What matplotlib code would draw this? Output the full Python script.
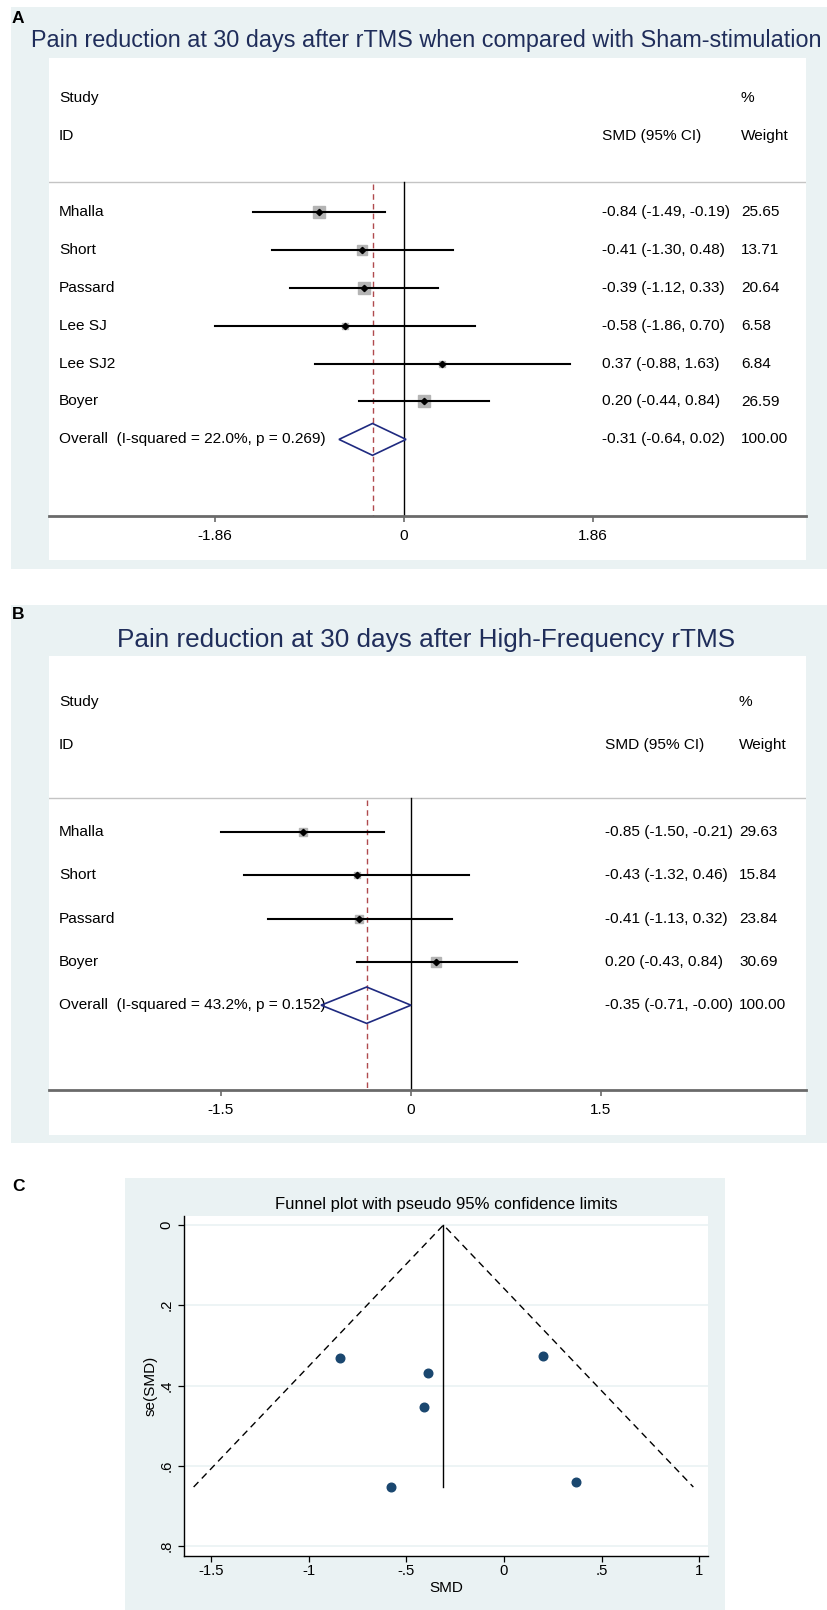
"""
Forest plots (A, B) and funnel plot (C) for pain reduction 30 days after rTMS.
"""

import matplotlib

matplotlib.use("Agg")
import matplotlib.pyplot as plt
import matplotlib.transforms as mtransforms
import numpy as np
from matplotlib.patches import Polygon, Rectangle

W, H = 828, 1610
BG = "#eaf2f3"
TITLE_COLOR = "#1f2d5a"
DOT_COLOR = "#1a476f"
FONT = ["Liberation Sans", "DejaVu Sans"]

# Panel A: rTMS vs sham
studies_a = ["Mhalla", "Short", "Passard", "Lee SJ", "Lee SJ2", "Boyer"]
smd_a = [-0.84, -0.41, -0.39, -0.58, 0.37, 0.20]
lo_a = [-1.49, -1.30, -1.12, -1.86, -0.88, -0.44]
hi_a = [-0.19, 0.48, 0.33, 0.70, 1.63, 0.84]
weight_a = [25.65, 13.71, 20.64, 6.58, 6.84, 26.59]
overall_a = [-0.31, -0.64, 0.02, 100.00]
het_a = ["22.0%", "0.269"]
ticks_a = [-1.86, 0, 1.86]
ticklabels_a = ["-1.86", "0", "1.86"]

# Panel B: high-frequency rTMS
studies_b = ["Mhalla", "Short", "Passard", "Boyer"]
smd_b = [-0.85, -0.43, -0.41, 0.20]
lo_b = [-1.50, -1.32, -1.13, -0.43]
hi_b = [-0.21, 0.46, 0.32, 0.84]
weight_b = [29.63, 15.84, 23.84, 30.69]
overall_b = [-0.35, -0.71, -0.0, 100.00]
het_b = ["43.2%", "0.152"]
ticks_b = [-1.5, 0, 1.5]
ticklabels_b = ["-1.5", "0", "1.5"]

# Panel C: funnel plot
funnel_smd = [-0.84, -0.41, -0.39, -0.58, 0.37, 0.20]
funnel_se = [0.331, 0.454, 0.370, 0.653, 0.640, 0.327]
funnel_limit_x = [-1.59, -0.31, 0.97]
funnel_limit_y = [0.653, 0.0, 0.653]
funnel_pooled = -0.31
funnel_xticks = [-1.5, -1, -0.5, 0, 0.5, 1]
funnel_xticklabels = ["-1.5", "-1", "-.5", "0", ".5", "1"]
funnel_yticks = [0, 0.2, 0.4, 0.6, 0.8]
funnel_yticklabels = ["0", ".2", ".4", ".6", ".8"]

plt.rcParams["font.family"] = FONT


def fig_box(x0, y0, x1, y1):
    return [x0 / W, 1 - y1 / H, (x1 - x0) / W, (y1 - y0) / H]


def add_rect(fig, x0, y0, x1, y1, color):
    l, b, w, h = fig_box(x0, y0, x1, y1)
    fig.add_artist(Rectangle((l, b), w, h, transform=fig.transFigure,
                             facecolor=color, edgecolor="none", zorder=0))


def fig_text(fig, x, y, s, **kw):
    return fig.text(x / W, 1 - y / H, s, **kw)


def draw_forest(fig, lay, studies, smd, lo, hi, weight, overall, het, ticks, ticklabels):
    left, right = 49, 806
    top, axis_y = lay["white_top"], lay["axis_y"]
    row0, step = lay["row0"], lay["row_step"]
    zero, unit = lay["zero_x"], lay["unit"]

    add_rect(fig, left, top, right, lay["white_bottom"], "white")
    ax = fig.add_axes(fig_box(left, top, right, axis_y))
    ax.set_facecolor("none")
    y_top = (top - row0) / step
    y_bot = (axis_y - row0) / step
    ax.set_xlim((left - zero) / unit, (right - zero) / unit)
    ax.set_ylim(y_bot, y_top)

    for side in ["top", "left", "right"]:
        ax.spines[side].set_visible(False)
    ax.spines["bottom"].set_color("#6a6a6a")
    ax.spines["bottom"].set_linewidth(2.0)
    ax.set_yticks([])
    ax.set_xticks(ticks, labels=ticklabels)
    ax.tick_params(axis="x", direction="out", length=4, width=1.2, color="#6a6a6a",
                   labelsize=11.1, pad=lay["tick_pad"])

    tr = mtransforms.blended_transform_factory(ax.transAxes, ax.transData)
    fx = lambda px: (px - left) / (right - left)
    fs = 11.1
    wx = lay["weight_x"]

    ax.text(fx(59), -3.0, "Study", transform=tr, fontsize=fs, va="center")
    ax.text(fx(59), -2.0, "ID", transform=tr, fontsize=fs, va="center")
    ax.text(fx(lay["stats_x"]), -2.0, "SMD (95% CI)", transform=tr, fontsize=fs, va="center")
    ax.text(fx(wx), -3.0, "%", transform=tr, fontsize=fs, va="center")
    ax.text(fx(wx), -2.0, "Weight", transform=tr, fontsize=fs, va="center")

    sep = -0.79
    ax.axhline(sep, color="#c4c4c4", lw=1.0, zorder=1)
    ax.plot([0, 0], [sep, y_bot], color="black", lw=1.0, zorder=2)
    ax.plot([overall[0], overall[0]], [sep + 0.05, y_bot], color="#b04a4e", lw=1.0,
            dashes=(4, 3), zorder=2)

    for i, name in enumerate(studies):
        side_pt = lay["box_k"] * np.sqrt(weight[i]) * 0.72
        ax.plot(smd[i], i, marker="s", ms=side_pt, color="#b4b4b4", ls="none", zorder=3)
        ax.plot([lo[i], hi[i]], [i, i], color="black", lw=1.5, zorder=4)
        ax.plot(smd[i], i, marker="D", ms=3.2, color="black", ls="none", zorder=5)
        ax.text(fx(59), i, name, transform=tr, fontsize=fs, va="center")
        ax.text(fx(lay["stats_x"]), i, f"{smd[i]:.2f} ({lo[i]:.2f}, {hi[i]:.2f})",
                transform=tr, fontsize=fs, va="center")
        ax.text(fx(wx), i, f"{weight[i]:.2f}", transform=tr, fontsize=fs, va="center")

    n = len(studies)
    est, olo, ohi, ow = overall
    hh = 0.42
    ax.add_patch(Polygon([(olo, n), (est, n - hh), (ohi, n), (est, n + hh)], closed=True,
                         facecolor="none", edgecolor="#1f2a80", lw=1.2, zorder=5))
    ax.text(fx(59), n, f"Overall  (I-squared = {het[0]}, p = {het[1]})", transform=tr,
            fontsize=fs, va="center")
    ax.text(fx(lay["stats_x"]), n, f"{est:.2f} ({olo:.2f}, {ohi:.2f})",
            transform=tr, fontsize=fs, va="center")
    ax.text(fx(wx), n, f"{ow:.2f}", transform=tr, fontsize=fs, va="center")
    return ax


def main() -> None:
    fig = plt.figure(figsize=(W / 100, H / 100), dpi=100)
    fig.patch.set_facecolor("white")

    # Panel A
    add_rect(fig, 11, 7, 828, 569, BG)
    lay_a = dict(white_top=58, axis_y=516, white_bottom=560, row0=212, row_step=37.9,
                 zero_x=404, unit=101.6, stats_x=602, weight_x=741, box_k=2.45, tick_pad=5)
    draw_forest(fig, lay_a, studies_a, smd_a, lo_a, hi_a, weight_a, overall_a, het_a,
                ticks_a, ticklabels_a)
    fig_text(fig, 426.5, 47, "Pain reduction at 30 days after rTMS when compared with Sham-stimulation",
             fontsize=16.8, color=TITLE_COLOR, ha="center", va="baseline")
    fig_text(fig, 12, 23, "A", fontsize=12.5, fontweight="bold", va="baseline")

    # Panel B
    add_rect(fig, 11, 605, 828, 1143, BG)
    lay_b = dict(white_top=656, axis_y=1090, white_bottom=1135, row0=832, row_step=43.3,
                 zero_x=411, unit=126.7, stats_x=605, weight_x=739, box_k=1.65, tick_pad=5)
    draw_forest(fig, lay_b, studies_b, smd_b, lo_b, hi_b, weight_b, overall_b, het_b,
                ticks_b, ticklabels_b)
    fig_text(fig, 426.5, 647, "Pain reduction at 30 days after High-Frequency rTMS",
             fontsize=18.8, color=TITLE_COLOR, ha="center", va="baseline")
    fig_text(fig, 12, 619, "B", fontsize=12.5, fontweight="bold", va="baseline")

    # Panel C: funnel plot
    add_rect(fig, 125, 1178, 725, 1610, BG)
    fig_text(fig, 12, 1191, "C", fontsize=12.5, fontweight="bold", va="baseline")
    ax = fig.add_axes(fig_box(184, 1216, 708, 1556))
    ax.set_facecolor("white")
    ax.set_xlim((184 - 504) / 195.2, (708 - 504) / 195.2)
    ax.set_ylim((1556 - 1225) / 401.25, (1216 - 1225) / 401.25)
    for side in ["top", "right"]:
        ax.spines[side].set_visible(False)
    for side in ["left", "bottom"]:
        ax.spines[side].set_color("black")
        ax.spines[side].set_linewidth(1.0)
    ax.set_xticks(funnel_xticks, labels=funnel_xticklabels)
    ax.set_yticks(funnel_yticks, labels=funnel_yticklabels)
    ax.tick_params(axis="both", direction="out", length=4.3, width=0.9, labelsize=10.7)
    ax.tick_params(axis="x", pad=1.5)
    ax.tick_params(axis="y", pad=3.5)
    for lab in ax.get_yticklabels():
        lab.set_rotation(90)
        lab.set_va("center")
    ax.grid(axis="y", color=BG, lw=1.2)
    ax.set_axisbelow(True)

    ax.plot(funnel_limit_x, funnel_limit_y, color="black", lw=1.0, dashes=(5, 3.5))
    ax.plot([funnel_pooled, funnel_pooled], [0, max(funnel_se)], color="black", lw=1.0)
    ax.plot(funnel_smd, funnel_se, marker="o", ms=6.2, color=DOT_COLOR, ls="none", zorder=4)

    fig_text(fig, 446, 1204, "Funnel plot with pseudo 95% confidence limits", fontsize=12,
             ha="center", va="center")
    fig_text(fig, 446, 1588, "SMD", fontsize=11, ha="center", va="center")
    fig_text(fig, 151, 1386, "se(SMD)", fontsize=11, ha="center", va="center", rotation=90)

    fig.savefig("out.png", dpi=100, facecolor="white")
    plt.close(fig)


if __name__ == "__main__":
    main()
